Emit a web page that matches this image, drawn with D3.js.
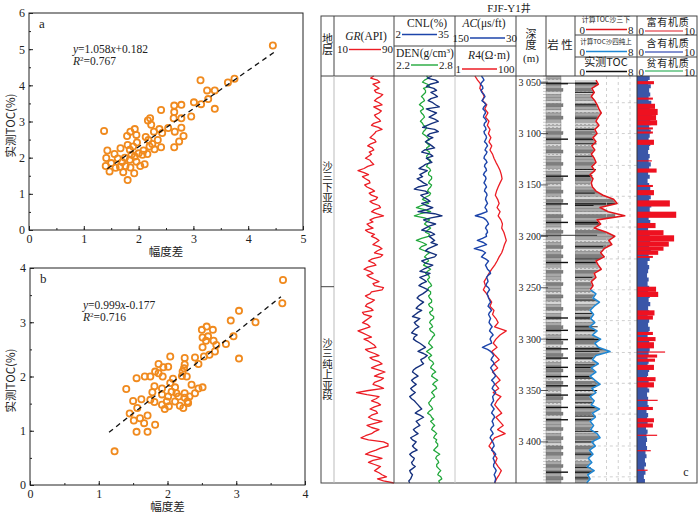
<!DOCTYPE html>
<html>
<head>
<meta charset="utf-8">
<script src="https://cdn.jsdelivr.net/npm/d3@7"></script>
<style>
body { margin: 0; background: #fff; }
text { font-family: "Liberation Serif", "DejaVu Serif", serif; fill: #222; }
.cjk { font-family: "Noto Sans CJK SC", sans-serif; }
</style>
</head>
<body>
<script>
// ---------- scatter a ----------
var ampA = [1.37,1.43,1.41,1.40,1.47,1.56,1.62,1.50,1.67,1.72,
            1.66,1.76,1.80,1.79,1.85,1.93,1.96,1.80,1.84,1.90,
            1.97,1.87,1.93,1.96,1.84,1.92,1.85,2.03,2.11,2.07,
            2.09,2.13,2.16,2.20,2.18,2.17,2.21,2.23,2.28,2.29,
            2.35,2.38,2.43,2.41,2.41,2.54,2.65,2.65,2.64,2.66,
            2.65,2.74,2.78,2.78,2.78,2.82,2.96,3.01,3.13,3.14,
            3.25,3.27,3.39,3.39,3.63,3.75,4.45,1.58,1.70,2.00,
            2.25,1.75];
var tocA = [2.74,2.20,1.99,1.77,1.62,2.10,1.98,1.85,2.26,1.60,
            1.75,1.77,1.38,2.60,2.72,2.79,2.63,2.35,2.22,2.31,
            2.42,2.08,2.03,1.89,1.94,1.57,1.73,1.77,1.82,2.08,
            2.20,2.57,2.10,2.31,2.49,3.03,3.09,2.91,2.72,2.23,
            2.49,2.79,2.68,2.29,3.32,2.82,3.44,3.26,3.09,2.72,
            2.29,2.45,3.46,3.09,2.83,2.60,3.14,3.53,4.14,3.48,
            3.86,3.62,3.86,3.35,4.08,4.18,5.10,1.72,1.88,2.12,
            2.38,2.00];
var fitA = {slope: 1.058, icpt: 0.182, from: 1.43, to: 4.47, eq: "1.058", c: "+0.182", r2: "0.767"};

// ---------- scatter b ----------
var ampB = [1.23,1.40,1.45,1.50,1.55,1.55,1.56,1.51,1.60,1.62,
            1.67,1.66,1.71,1.71,1.75,1.75,1.78,1.81,1.82,1.81,
            1.82,1.87,1.87,1.92,1.92,1.92,1.94,1.93,1.96,1.99,
            2.01,2.01,2.04,2.04,2.02,2.06,2.08,2.11,2.11,2.13,
            2.16,2.18,2.21,2.22,2.24,2.25,2.25,2.23,2.25,2.25,
            2.28,2.29,2.30,2.32,2.35,2.40,2.40,2.45,2.45,2.51,
            2.50,2.51,2.51,2.53,2.57,2.56,2.59,2.61,2.66,2.67,
            2.71,2.69,2.85,2.92,2.96,3.04,3.04,3.28,3.67,3.68];
var tocB = [0.62,1.77,1.32,1.55,1.97,0.98,1.42,1.19,1.23,1.58,
            2.00,1.14,0.98,1.28,2.00,1.57,1.71,1.82,1.11,1.53,
            2.09,2.23,2.06,1.67,1.78,1.48,2.17,2.00,1.40,1.54,
            2.18,1.63,2.37,1.88,1.45,1.72,1.96,1.80,1.54,1.69,
            1.63,1.46,2.01,2.09,2.15,2.34,2.22,1.42,1.69,1.61,
            2.00,1.54,1.51,1.63,1.85,1.69,2.35,1.78,2.23,1.80,
            2.86,2.72,2.54,2.37,2.92,2.66,2.74,2.40,2.86,2.66,
            2.58,2.46,2.60,3.03,2.74,3.21,2.33,3.00,3.35,3.78];
var fitB = {slope: 0.999, icpt: -0.177, from: 1.15, to: 3.65, eq: "0.999", c: "-0.177", r2: "0.716"};

// ---------- well log FJF-Y1 ----------
var logTop = 3044, logBottom = 3440;
// GR, CNL, DEN, AC sampled every 2 m from 3044 m
var fineStep = 2;
var gr = [63,59,68,71,62,66,70,64,66,75, 72,67,64,70,74,63,68,73,70,64,
          66,70,72,63,60,69,74,66,64,61, 58,64,66,59,55,61,63,57,60,56,
          52,58,60,63,55,50,42,50,56,48, 52,57,58,51,54,60,64,57,60,68,
          66,58,62,70,72,64,60,67,76,64, 58,62,54,57,62,52,56,64,60,66,
          70,66,62,70,74,68,64,75,72,61, 56,63,66,55,50,58,62,54,58,64,
          70,62,64,76,74,60,58,52,56,64, 60,54,52,59,62,48,50,60,56,52,
          48,55,58,50,42,48,54,60,50,56, 60,64,66,52,56,64,70,58,62,70,
          74,66,60,69,78,70,64,76,72,64, 62,70,76,56,40,54,70,66,60,68,
          72,64,58,66,68,60,56,62,74,64, 54,60,70,64,60,52,46,56,76,82,
          82,72,66,58,52,64,74,62,56,64, 72,68,64,70,74,80,68,76,90];
var cnl = [22.5,20,24.5,26,21.5,19.5,23.5,25,22,24, 25.5,22,20.5,23,24.5,26.5,19.5,22,25,23,
           21,24,26,22.5,20,17.5,24,26,21.5,20, 23,20.5,19,21,22.5,24,18.5,17,21.5,23,
           19.5,21,22.5,19,17.5,15.5,20,18,16,17.5, 14.5,16.5,18,20,15,13,19,20.5,16.5,18,
           20,21.5,17,19.5,23,20,15,24,28,22, 18,20.5,24.5,21,19,17,22,24,21,22.5,
           24,22,25.5,23,20.5,19,22,25,24,20, 17,19,23,20.5,18,16,21.5,19,16,18,
           19.5,17,15.5,18,20.5,19,17.5,15.5,14.5,16, 18,16.5,15,14,17,15,13.5,12,16,14.5,
           13,14,15.5,13.5,12.5,11.5,14.5,13,12.5,14, 16,17.5,19,17,15,18,20,18.5,16.5,17,
           18,16,14,12.5,12,13.5,15,13,11.5,12.5, 14,12.5,11,12,13.5,12,10.5,11.5,13,14,
           15,16,17,15,13.5,16,18,16,14,15, 16,14,12.5,13.5,15,13,11,12,14,13,
           12,13,14.5,12,10.5,11.5,13,12.5,11.5,12, 13.5,12,10.5,11,12,11.5,11,10,10.5];
var den = [2.52,2.54,2.50,2.48,2.53,2.55,2.49,2.51,2.51,2.49, 2.47,2.49,2.50,2.47,2.45,2.48,2.49,2.46,2.47,2.49,
           2.50,2.48,2.46,2.48,2.49,2.52,2.51,2.49,2.48,2.51, 2.53,2.55,2.51,2.53,2.55,2.52,2.52,2.55,2.54,2.52,
           2.53,2.56,2.55,2.53,2.52,2.55,2.56,2.54,2.54,2.57, 2.57,2.55,2.54,2.57,2.56,2.54,2.53,2.56,2.55,2.51,
           2.48,2.52,2.54,2.47,2.42,2.50,2.56,2.46,2.40,2.50, 2.55,2.52,2.50,2.53,2.56,2.53,2.51,2.55,2.54,2.47,
           2.42,2.48,2.52,2.47,2.45,2.50,2.55,2.52,2.50,2.53, 2.54,2.51,2.49,2.53,2.56,2.53,2.51,2.54,2.55,2.53,
           2.54,2.56,2.57,2.54,2.53,2.56,2.56,2.54,2.55,2.57, 2.57,2.54,2.55,2.58,2.58,2.55,2.56,2.59,2.59,2.56,
           2.55,2.57,2.58,2.55,2.56,2.59,2.60,2.58,2.57,2.55, 2.54,2.56,2.58,2.55,2.52,2.55,2.57,2.54,2.55,2.58,
           2.59,2.57,2.56,2.59,2.61,2.58,2.57,2.60,2.63,2.60, 2.58,2.61,2.62,2.59,2.57,2.59,2.60,2.57,2.56,2.54,
           2.55,2.57,2.58,2.55,2.53,2.56,2.57,2.59,2.56,2.58, 2.60,2.58,2.57,2.60,2.62,2.60,2.59,2.62,2.61,2.63,
           2.63,2.61,2.59,2.62,2.65,2.62,2.61,2.63,2.64,2.62, 2.62,2.64,2.66,2.64,2.63,2.66,2.67,2.64,2.65];
var ac = [98,95,93,97,100,96,95,99,97,93, 91,94,97,92,89,93,95,91,90,93,
          94,90,88,92,93,90,89,93,92,89, 88,90,92,88,86,89,91,87,89,92,
          93,89,87,91,92,89,88,92,94,90, 89,91,93,90,88,91,92,88,87,89,
          90,88,86,89,91,88,87,98,110,94, 89,86,84,88,90,87,86,89,88,96,
          106,94,88,100,112,96,90,94,98,90, 84,87,90,88,86,82,80,85,88,86,
          85,88,89,84,82,85,87,85,84,82, 80,83,85,81,78,82,84,82,80,82,
          83,80,77,80,82,78,75,79,81,79, 78,88,96,86,80,76,74,77,79,75,
          73,77,80,77,75,72,70,74,78,74, 72,75,77,73,70,73,76,75,74,77,
          79,76,73,76,78,74,72,75,77,75, 74,78,80,77,75,79,81,78,76,74,
          73,76,78,73,70,73,75,73,72,74, 74,71,69,71,73,71,70,71,72];
// R4, organic fill sampled every 4 m from 3044 m
var coarseStep = 4;
var r4 = [4.5,5.5,7,6.5,8, 9,8,11,9.5,12, 10,13,11.5,14,12.5, 15,13,16,14,17,
          19,22,26,30,33, 35,30,26,23,21, 25,28,24,30,26, 32,36,34,40,44,
          48,42,38,34,28, 24,20,16,13,11, 9,10,8.5,11,13, 16,14,19,17,22,
          26,20,48,30,22, 18,24,16,21,28, 19,25,17,23,30, 21,27,18,32,24,
          20,26,34,22,29, 38,25,44,20,16, 13,17,19,24,21, 26,33,28,23,20];
// computed TOC, 沙三下 model: 3048-3252 m, every 4 m
var tocRedTop = 3048;
var tocRed = [2.2,2.6,1.5,1.9,1.4,2.0,2.4,2.7,3.1,2.6,
              2.2,2.7,2.0,2.4,1.7,2.2,1.5,2.0,1.4,1.9,
              2.2,1.5,2.0,1.2,1.7,1.4,1.6,2.2,3.4,5.2,
              5.8,2.9,4.3,7.1,2.4,3.0,1.9,4.0,5.4,4.4,
              4.9,3.6,3.0,3.6,2.2,2.6,3.1,1.9,2.2,1.4,
              1.7,1.2];
// computed TOC, 沙四纯上 model: 3252-3440 m, every 4 m
var tocBlueTop = 3252;
var tocBlue = [1.3,2.2,1.7,2.8,1.9,1.2,1.8,1.3,2.0,1.1,
               2.4,1.6,3.0,2.0,2.6,4.6,2.2,1.6,2.6,1.4,
               2.2,1.2,2.0,2.9,1.5,2.2,1.2,1.9,1.4,2.8,
               1.6,2.1,1.2,1.8,1.3,2.4,2.9,1.5,2.1,1.1,
               1.7,0.9,1.5,0.7,1.9,0.8,1.2,0.6];
// measured TOC samples
var coreDepth = [3060,3072,3085,3096,3110,3122,3135,3141,3158,3170,3188,3210,3222,3240,
                 3262,3275,3288,3300,3312,3325,3338,3350,3362,3375,3390,3400,3412,3425,3435];
var coreToc = [2.0,2.4,2.6,2.1,2.3,1.8,2.2,1.6,2.0,1.8,3.0,3.4,2.9,1.6,
               2.2,1.7,2.5,1.9,2.8,2.0,1.6,2.4,1.8,2.2,2.6,1.9,1.5,1.3,1.0];
var markerDepth = [3051, 3199];
// organic matter: 含有机质 fill every 4 m, 富有机质 intervals
var orgLean = [2.2,2.4,2.1,2.6,2.3,2.5,2.2,2.7,2.4,2.6, 2.8,2.5,2.7,2.3,2.6,2.4,2.2,2.5,2.3,2.1,
               2.4,2.2,2.6,2.3,2.1,2.4,2.0,2.3,2.5,2.2, 2.6,2.3,2.7,2.4,2.6,2.2,2.5,2.3,2.1,2.4,
               2.2,2.5,2.3,2.6,2.2,2.4,2.0,2.3,2.1,1.9, 2.2,2.0,2.3,2.1,2.4,2.2,2.5,2.1,2.3,2.0,
               2.3,2.1,2.4,2.2,2.0,2.3,2.1,2.4,2.2,2.0, 2.2,2.0,2.3,2.1,1.9,2.2,2.0,2.3,1.9,2.1,
               2.0,2.2,1.8,2.1,1.9,2.0,1.7,2.0,1.8,1.9, 1.7,1.9,1.6,1.8,1.5,1.7,1.4,1.6,1.3,1.5];
var richTop =    [3049,3065,3071,3076,3082,3087,3094,3098,3106,3126,3134,3150,3155,3165,3176,3187,
                  3194,3199,3205,3210,3214,3219,3249,3254,3272,3277,3293,3298,3303,3312,3315,3319,
                  3325,3337,3342,3359,3366,3377,3382,3393,3408,3427];
var richBottom = [3052,3067,3076,3082,3087,3092,3096,3100,3111,3127,3138,3152,3160,3171,3182,3192,
                  3199,3205,3210,3214,3218,3221,3254,3259,3277,3281,3296,3302,3309,3313,3318,3322,
                  3330,3341,3347,3360,3369,3381,3386,3394,3409,3428];
var richValue =  [3.2,3.0,3.4,3.9,3.6,3.8,3.0,3.0,3.2,2.8,3.7,3.0,3.2,6.2,7.4,3.5,
                  5.0,7.0,6.0,5.0,4.0,3.0,3.6,4.0,3.3,3.0,3.0,3.5,3.2,5.3,3.8,3.4,
                  3.2,3.5,3.2,3.9,3.0,3.2,3.0,3.8,2.6,2.0];
// lithology code every 3 m from 3044 m: 0 silt, 1 mudstone, 2 dark mudstone, 3 shale streak
var lithStep = 3;
var lith = [1,0,3,1,2,0,1,1,0,2,1,0,1,2,1,0,0,1,2,1,3,1,0,1,2,0,1,1,2,1,0,1,3,2,1,0,1,2,1,0,
            2,3,1,1,0,2,1,3,1,0,2,1,1,0,1,2,0,1,2,1,3,1,0,2,1,1,0,2,1,
            1,0,2,1,0,1,2,0,1,3,0,1,2,3,0,1,3,2,0,3,1,2,3,0,1,3,2,1,3,0,2,3,1,0,3,2,1,0,3,1,
            2,0,3,1,1,2,0,1,2,1,0,2,1,2,1,0,1,2,1,3,1,2,1];
var depthLabels = [3050, 3100, 3150, 3200, 3250, 3300, 3350, 3400];
var tocGridDepth = [3070,3100,3131,3161,3191,3222,3252,3282,3313,3343,3373,3404,3434];
var tocGridValue = [4, 6, 8];
var stratumBase = 3249;
var strata = [{name: "沙三下亚段", mid: 3152}, {name: "沙三纯上亚段", mid: 3329}];

var svg = d3.select("body").append("svg").attr("width", 700).attr("height", 516);

// ---------- scatter panels ----------
function scatter(cfg) {
  var g = svg.append("g");
  var x = d3.scaleLinear().domain([0, cfg.xMax]).range([cfg.left, cfg.right]);
  var y = d3.scaleLinear().domain([0, cfg.yMax]).range([cfg.bottom, cfg.top]);

  function style(s) {
    s.select(".domain").remove();
    s.selectAll("line").attr("stroke", "#222");
    s.selectAll("text").attr("font-size", 12).attr("fill", "#222")
      .attr("font-family", "Liberation Serif");
  }
  g.append("g").attr("transform", "translate(0," + cfg.bottom + ")")
    .call(d3.axisBottom(x).ticks(cfg.xMax * 2).tickSize(-2).tickFormat("")).call(style);
  g.append("g").attr("transform", "translate(0," + cfg.bottom + ")")
    .call(d3.axisBottom(x).ticks(cfg.xMax).tickSize(-4).tickPadding(4).tickFormat(d3.format("d"))).call(style);
  g.append("g").attr("transform", "translate(" + cfg.left + ",0)")
    .call(d3.axisLeft(y).ticks(cfg.yMax * 2).tickSize(-2).tickFormat("")).call(style);
  g.append("g").attr("transform", "translate(" + cfg.left + ",0)")
    .call(d3.axisLeft(y).ticks(cfg.yMax).tickSize(-4).tickPadding(4).tickFormat(d3.format("d"))).call(style);

  g.append("rect").attr("x", cfg.left).attr("y", cfg.top)
    .attr("width", cfg.right - cfg.left).attr("height", cfg.bottom - cfg.top)
    .attr("fill", "none").attr("stroke", "#222").attr("stroke-width", 1);

  g.selectAll("circle").data(cfg.xs).enter().append("circle")
    .attr("cx", function(d) { return x(d); })
    .attr("cy", function(d, i) { return y(cfg.ys[i]); })
    .attr("r", 3.1)
    .attr("fill", "none").attr("stroke", "#f08a1e").attr("stroke-width", 1.8);

  var f = cfg.fit;
  g.append("line")
    .attr("x1", x(f.from)).attr("y1", y(f.slope * f.from + f.icpt))
    .attr("x2", x(f.to)).attr("y2", y(f.slope * f.to + f.icpt))
    .attr("stroke", "#111").attr("stroke-width", 1.3).attr("stroke-dasharray", "5,4");

  var eq = g.append("text").attr("x", cfg.eqX).attr("y", cfg.eqY).attr("font-size", 11.5);
  eq.append("tspan").attr("font-style", "italic").text("y");
  eq.append("tspan").text("=" + f.eq);
  eq.append("tspan").attr("font-style", "italic").text("x");
  eq.append("tspan").text(f.c);
  var r2 = g.append("text").attr("x", cfg.eqX).attr("y", cfg.eqY + 12).attr("font-size", 11.5);
  r2.append("tspan").attr("font-style", "italic").text("R");
  r2.append("tspan").attr("font-size", 7).attr("dy", -4).text("2");
  r2.append("tspan").attr("dy", 4).text("=" + f.r2);

  g.append("text").attr("x", cfg.left + 10).attr("y", cfg.top + 15)
    .attr("font-size", 13).text(cfg.label);
  g.append("text").attr("class", "cjk").attr("x", (cfg.left + cfg.right) / 2).attr("y", cfg.bottom + 26)
    .attr("text-anchor", "middle").attr("font-size", 11.5).attr("fill", "#444").text("幅度差");
  g.append("text").attr("class", "cjk")
    .attr("transform", "translate(15," + ((cfg.top + cfg.bottom) / 2 + 4) + ") rotate(-90)")
    .attr("text-anchor", "middle").attr("font-size", 11.5).attr("fill", "#555").text("实测TOC(%)");
}

scatter({xs: ampA, ys: tocA, fit: fitA, xMax: 5, yMax: 6, left: 29, right: 303, top: 13, bottom: 230,
         eqX: 73, eqY: 53, label: "a"});
scatter({xs: ampB, ys: tocB, fit: fitB, xMax: 4, yMax: 4, left: 30, right: 305, top: 268, bottom: 485,
         eqX: 83, eqY: 309, label: "b"});

// ---------- well log ----------
var L = {left: 321, right: 697, top: 16, head: 76, bottom: 483};
var col = {strat: 334, gr: 394, cnl: 455, ac: 516, depth: 546, lith: 575, toc: 637};
var yD = d3.scaleLinear().domain([logTop, logBottom]).range([L.head, L.bottom]);
var xGR = d3.scaleLinear().domain([10, 90]).range([col.strat, col.gr]);
var xCNL = d3.scaleLinear().domain([2, 35]).range([col.gr, col.cnl]);
var xDEN = d3.scaleLinear().domain([2.2, 2.8]).range([col.gr, col.cnl]);
var xAC = d3.scaleLinear().domain([150, 30]).range([col.cnl, col.ac]);
var xR4 = d3.scaleLog().domain([1, 100]).range([col.cnl, col.ac]);
var xTOC = d3.scaleLinear().domain([0, 8]).range([583, 630]);
var xORG = d3.scaleLinear().domain([0, 10]).range([col.toc, 690]);

var log = svg.append("g");
var defs = svg.append("defs");

function depthAt(top, step) { return function(d, i) { return yD(top + i * step); }; }
function curve(values, xs, color, width, top, step) {
  log.append("path").datum(values)
    .attr("d", d3.line().x(function(d) { return xs(d); }).y(depthAt(top, step)))
    .attr("fill", "none").attr("stroke", color).attr("stroke-width", width)
    .attr("stroke-linejoin", "round");
}

// lithology + pattern
var pat = defs.append("pattern").attr("id", "silt").attr("patternUnits", "userSpaceOnUse")
  .attr("width", 4).attr("height", 3);
pat.append("rect").attr("width", 4).attr("height", 3).attr("fill", "#d6d6d6");
pat.append("circle").attr("cx", 1).attr("cy", 1.5).attr("r", 0.6).attr("fill", "#777");
var lithFill = ["url(#silt)", "#a8a8a8", "#7e7e7e", "#a8a8a8"];

function lithRects(g, x0, wFn) {
  g.selectAll("rect.l").data(lith).enter().append("rect").attr("class", "l")
    .attr("x", x0)
    .attr("y", function(d, i) { return yD(logTop + i * lithStep); })
    .attr("width", wFn)
    .attr("height", yD(logTop + lithStep) - yD(logTop))
    .attr("fill", function(d) { return lithFill[d]; })
    .attr("stroke", "#666").attr("stroke-width", 0.35);
  g.selectAll("rect.s").data(lith.map(function(d, i) { return [d, i]; }).filter(function(p) { return p[0] === 3; }))
    .enter().append("rect").attr("class", "s")
    .attr("x", x0)
    .attr("y", function(p) { return yD(logTop + p[1] * lithStep) + 0.8; })
    .attr("width", function(p) { return wFn(p[0]) + 7; })
    .attr("height", 1.4).attr("fill", "#111");
}
var lithG = log.append("g");
lithRects(lithG, col.depth, function(d) { return d === 2 ? 17 : 15; });
lithG.selectAll("line.t").data(lith).enter().append("line").attr("class", "t")
  .attr("x1", col.depth - 3).attr("x2", col.depth)
  .attr("y1", function(d, i) { return yD(logTop + i * lithStep); })
  .attr("y2", function(d, i) { return yD(logTop + i * lithStep); })
  .attr("stroke", "#999").attr("stroke-width", 0.5);

// TOC track background: lithology under the computed TOC curve
var tocPoints = tocRed.map(function(v, i) { return [tocRedTop + i * coarseStep, v]; })
  .concat(tocBlue.map(function(v, i) { return [tocBlueTop + i * coarseStep, v]; }));
defs.append("clipPath").attr("id", "tocClip").append("path").datum(tocPoints)
  .attr("d", d3.area().y(function(p) { return yD(p[0]); }).x0(col.lith).x1(function(p) { return xTOC(p[1]) - 1; }));
var tocBg = log.append("g").attr("clip-path", "url(#tocClip)");
lithRects(tocBg, col.lith, function() { return 40; });

// TOC grid
log.selectAll("line.tg").data(tocGridValue).enter().append("line")
  .attr("x1", function(d) { return xTOC(d); }).attr("x2", function(d) { return xTOC(d); })
  .attr("y1", L.head).attr("y2", L.bottom)
  .attr("stroke", "#bbb").attr("stroke-width", 0.7).attr("stroke-dasharray", "3,3");
log.selectAll("line.th").data(tocGridDepth).enter().append("line")
  .attr("x1", xTOC(1.5)).attr("x2", col.toc)
  .attr("y1", function(d) { return yD(d); }).attr("y2", function(d) { return yD(d); })
  .attr("stroke", "#bbb").attr("stroke-width", 0.7).attr("stroke-dasharray", "3,3");

// measured TOC and core markers
log.selectAll("line.core").data(coreDepth).enter().append("line")
  .attr("x1", col.lith).attr("x2", function(d, i) { return xTOC(coreToc[i]); })
  .attr("y1", function(d) { return yD(d); }).attr("y2", function(d) { return yD(d); })
  .attr("stroke", "#111").attr("stroke-width", 0.9);
log.selectAll("line.mk").data(markerDepth).enter().append("line")
  .attr("x1", col.depth - 5).attr("x2", xTOC(2.4))
  .attr("y1", function(d) { return yD(d); }).attr("y2", function(d) { return yD(d); })
  .attr("stroke", "#222").attr("stroke-width", 0.9);

curve(tocRed, xTOC, "#e0161c", 1.6, tocRedTop, coarseStep);
curve(tocBlue, xTOC, "#1f86d2", 1.6, tocBlueTop, coarseStep);

// organic matter track
log.append("path").datum(orgLean)
  .attr("d", d3.area().curve(d3.curveStepAfter).y(depthAt(logTop, coarseStep)).x0(xORG(0)).x1(function(d) { return xORG(d); }))
  .attr("fill", "#3a56a8");
log.selectAll("rect.rich").data(richValue).enter().append("rect")
  .attr("x", xORG(0))
  .attr("y", function(d, i) { return yD(richTop[i]); })
  .attr("width", function(d) { return xORG(d) - xORG(0); })
  .attr("height", function(d, i) { return Math.max(1.2, yD(richBottom[i]) - yD(richTop[i])); })
  .attr("fill", "#ee1120");

// log curves
curve(gr, xGR, "#ec1c24", 1.3, logTop, fineStep);
curve(den, xDEN, "#22a83c", 1.25, logTop, fineStep);
curve(cnl, xCNL, "#142f7c", 1.35, logTop, fineStep);
curve(r4, xR4, "#ec1c24", 1.3, logTop, coarseStep);
curve(ac, xAC, "#1c44aa", 1.4, logTop, fineStep);

// frame lines
var frame = svg.append("g").attr("fill", "none");
frame.append("rect").attr("x", L.left).attr("y", L.top).attr("width", L.right - L.left)
  .attr("height", L.bottom - L.top).attr("stroke", "#444").attr("stroke-width", 1);
frame.append("line").attr("x1", L.left).attr("x2", L.right).attr("y1", L.head).attr("y2", L.head)
  .attr("stroke", "#444");
[col.strat, col.gr, col.cnl, col.ac, col.depth, col.lith, col.toc].forEach(function(xv) {
  frame.append("line").attr("x1", xv).attr("x2", xv).attr("y1", L.top).attr("y2", L.head).attr("stroke", "#444");
});
[[col.strat, "#bbb"], [col.gr, "#555"], [col.cnl, "#c8c8c8"], [col.ac, "#444"], [col.toc, "#333"]].forEach(function(p) {
  frame.append("line").attr("x1", p[0]).attr("x2", p[0]).attr("y1", L.head).attr("y2", L.bottom).attr("stroke", p[1]);
});
frame.append("line").attr("x1", col.gr).attr("x2", col.ac).attr("y1", 46).attr("y2", 46).attr("stroke", "#444");
[35, 57].forEach(function(yv) {
  frame.append("line").attr("x1", col.lith).attr("x2", L.right).attr("y1", yv).attr("y2", yv).attr("stroke", "#444");
});
frame.append("line").attr("x1", L.left).attr("x2", col.strat)
  .attr("y1", yD(stratumBase)).attr("y2", yD(stratumBase)).attr("stroke", "#444");

// depth labels
log.selectAll("text.dl").data(depthLabels).enter().append("text")
  .attr("x", 541).attr("y", function(d) { return yD(d) + 3.5; })
  .attr("text-anchor", "end").attr("font-size", 10)
  .text(function(d) { return d3.format("d")(d).replace(/^(\d)/, "$1 "); });
log.selectAll("line.dt").data(depthLabels).enter().append("line")
  .attr("x1", 541).attr("x2", col.depth + 2)
  .attr("y1", function(d) { return yD(d); }).attr("y2", function(d) { return yD(d); })
  .attr("stroke", "#333").attr("stroke-width", 0.8);

// stratum names, vertical text
log.selectAll("text.st").data(strata).enter().append("text")
  .attr("class", "cjk")
  .attr("x", 327.5).attr("y", function(d) { return yD(d.mid); })
  .attr("writing-mode", "vertical-rl").attr("text-anchor", "middle")
  .attr("font-size", 10.5).attr("fill", "#555")
  .text(function(d) { return d.name; });

// header text
var H = svg.append("g");
function txt(x, y, s, size, anchor, cls) {
  return H.append("text").attr("x", x).attr("y", y).attr("font-size", size || 11)
    .attr("text-anchor", anchor || "middle").attr("class", cls || null).attr("fill", "#333").text(s);
}
function legend(x1, x2, y, color, lo, hi, yText) {
  H.append("line").attr("x1", x1).attr("x2", x2).attr("y1", y).attr("y2", y)
    .attr("stroke", color).attr("stroke-width", 1.4);
  txt(x1 - 1, yText || y + 3.5, lo, 11, "end");
  txt(x2 + 1, yText || y + 3.5, hi, 11, "start");
}
var title = H.append("text").attr("x", 509).attr("y", 12).attr("text-anchor", "middle").attr("font-size", 11);
title.append("tspan").text("FJF-Y1");
title.append("tspan").attr("class", "cjk").attr("font-size", 10).text("井");

H.append("text").attr("class", "cjk").attr("x", 327.5).attr("y", 44)
  .attr("writing-mode", "vertical-rl").attr("text-anchor", "middle")
  .attr("font-size", 11).attr("fill", "#333").text("地层");

var t = H.append("text").attr("x", 366).attr("y", 40).attr("text-anchor", "middle").attr("font-size", 11.5).attr("fill", "#333");
t.append("tspan").attr("font-style", "italic").text("GR");
t.append("tspan").text("(API)");
legend(349, 381, 49.5, "#ec1c24", "10", "90");

txt(427, 27, "CNL(%)", 11.5);
legend(402, 437, 34.5, "#1c44aa", "2", "35");
t = H.append("text").attr("x", 396).attr("y", 57).attr("font-size", 11.5).attr("fill", "#333");
t.append("tspan").text("DEN(g/cm");
t.append("tspan").attr("font-size", 7).attr("dy", -4).text("3");
t.append("tspan").attr("dy", 4).text(")");
legend(411, 438, 65, "#22a83c", "2.2", "2.8");

t = H.append("text").attr("x", 484).attr("y", 27).attr("text-anchor", "middle").attr("font-size", 11.5).attr("fill", "#333");
t.append("tspan").attr("font-style", "italic").text("AC");
t.append("tspan").text("(μs/ft)");
legend(470, 505, 38, "#1c44aa", "150", "30");
t = H.append("text").attr("x", 489).attr("y", 59).attr("text-anchor", "middle").attr("font-size", 11.5).attr("fill", "#333");
t.append("tspan").attr("font-style", "italic").text("R");
t.append("tspan").text("4(Ω·m)");
legend(462, 497, 69, "#ec1c24", "1", "100");

H.append("text").attr("class", "cjk").attr("x", 531).attr("y", 39)
  .attr("writing-mode", "vertical-rl").attr("text-anchor", "middle")
  .attr("font-size", 11).attr("fill", "#333").text("深度");
txt(531, 62, "(m)", 11);
txt(560, 49, "岩 性", 11.5, "middle", "cjk");

txt(606, 22, "计算TOC沙三下", 7, "middle", "cjk");
legend(586, 627, 29.5, "#e0161c", "0", "8", 33.5);
txt(606, 44, "计算TOC沙四纯上", 6.5, "middle", "cjk");
legend(586, 627, 51.5, "#1f86d2", "0", "8", 55.5);
txt(606, 66, "实测TOC", 11, "middle", "cjk");
legend(586, 627, 71.5, "#111", "0", "8", 75.5);

txt(668, 26, "富有机质", 10, "middle", "cjk").attr("letter-spacing", 0.8);
legend(645, 683, 31, "#e8646c", "0", "10", 35);
txt(668, 47, "含有机质", 10, "middle", "cjk").attr("letter-spacing", 0.8);
legend(645, 683, 52, "#5a6cc0", "0", "10", 55.5);
txt(668, 67, "贫有机质", 10, "middle", "cjk").attr("letter-spacing", 0.8);
legend(645, 683, 71, "#5cc07e", "0", "10", 75.5);

txt(686, 476, "c", 12);
</script>
</body>
</html>
